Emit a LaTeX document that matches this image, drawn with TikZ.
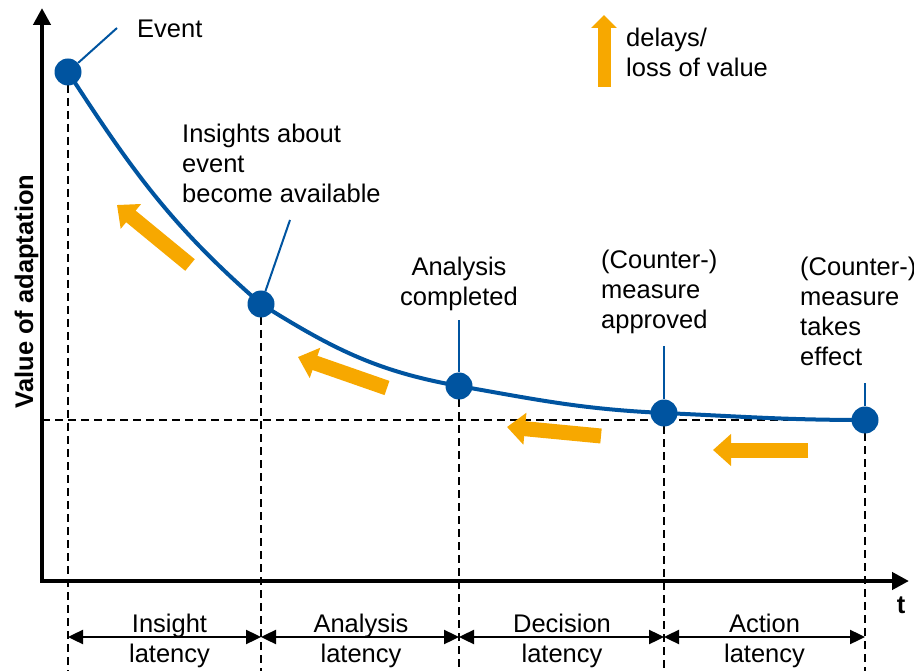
\documentclass[tikz,border=0pt]{standalone}
\usepackage{fontspec}
\setmainfont{Liberation Sans}
\usetikzlibrary{arrows.meta}
\definecolor{myblue}{RGB}{0,84,160}
\definecolor{myorange}{RGB}{247,168,0}
\begin{document}
\begin{tikzpicture}[x=1pt,y=-1pt,
 every node/.style={font=\fontsize{25.5}{30}\selectfont, inner sep=0pt},
 dot/.style={circle, fill=myblue, minimum size=27pt, inner sep=0pt},
 curve/.style={myblue, line width=4pt},
 callout/.style={myblue, line width=2pt},
 guide/.style={black, line width=1.8pt, dash pattern=on 8pt off 5pt},
 axis/.style={black, line width=4.5pt, line join=miter, {Triangle[length=17pt,width=17pt]}-{Triangle[length=17pt,width=17pt]}},
 latency/.style={black, line width=2.4pt, {Triangle[length=15pt,width=14pt]}-{Triangle[length=15pt,width=14pt]}},
 delay/.style={myorange, line width=15pt, -{Triangle[length=18pt,width=31pt]}},
 label/.style={align=left, anchor=north west},
 boldlabel/.style={font=\fontsize{25.5}{30}\selectfont\bfseries},
]
\useasboundingbox (0,0) rectangle (914,671);

% key points
\coordinate (q1) at (68,72);
\coordinate (q2) at (261,304);
\coordinate (q3) at (459,386);
\coordinate (q4) at (664,413);
\coordinate (q5) at (865,420);
\foreach \i/\x in {1/68,2/261,3/459,4/664,5/865}{
  \coordinate (b\i) at (\x,671);
  \coordinate (l\i) at (\x,637);
}
\coordinate (hstart) at (42,420);
\coordinate (ytop) at (42,8);
\coordinate (xend) at (909,581);

% dashed guides
\foreach \i in {1,...,5}{ \draw[guide] (q\i) -- (b\i); }
\draw[guide] (hstart) -- (q5);

% axes
\draw[axis] (ytop) |- (xend);

% curve
\draw[curve] (q1) to[out=-57,in=139] (q2) to[out=-32,in=170] (q3)
  to[out=-10,in=177.4] (q4) to[out=-2.6,in=180] (q5);

% dots
\foreach \i in {1,...,5}{ \node[dot] (p\i) at (q\i) {}; }

% callouts
\coordinate (c1) at (117,28);
\coordinate (c2) at (290,220);
\coordinate (c3) at (459,320);
\coordinate (c4) at (664,346);
\coordinate (c5) at (865,383);
\foreach \i in {1,...,5}{ \draw[callout] (p\i) -- (c\i); }

% delay arrows
\coordinate (a1s) at (190,265); \coordinate (a1e) at (117,205);
\coordinate (a2s) at (387,388); \coordinate (a2e) at (298,357);
\coordinate (a3s) at (601,436); \coordinate (a3e) at (507,427);
\coordinate (a4s) at (808,450); \coordinate (a4e) at (713,450);
\draw[delay] (a1s) -- (a1e);
\draw[delay] (a2s) -- (a2e);
\draw[delay] (a3s) -- (a3e);
\draw[delay] (a4s) -- (a4e);
\coordinate (lgs) at (604,87); \coordinate (lge) at (604,15);
\draw[delay, line width=13pt, -{Triangle[length=13pt,width=25pt]}] (lgs) -- (lge);

% latency arrows
\draw[latency] (l1) -- (l2);
\draw[latency] (l2) -- (l3);
\draw[latency] (l3) -- (l4);
\draw[latency] (l4) -- (l5);

% texts
\node[label] (tevent) at (137,20) {Event};
\node[label] (tins) at (182,124) {Insights about\\event\\become available};
\node[align=center, anchor=north] (tana) at (459,257) {Analysis\\completed};
\node[label] (tappr) at (601,250) {(Counter-)\\measure\\approved};
\node[label] (teff) at (800,257) {(Counter-)\\measure\\takes\\effect};
\node[label] (tleg) at (626,27.5) {delays/\\loss of value};

\node[align=center, anchor=north] (lat1) at (169.5,613.5) {Insight\\latency};
\node[align=center, anchor=north] (lat2) at (361,613.5) {Analysis\\latency};
\node[align=center, anchor=north] (lat3) at (562,613.5) {Decision\\latency};
\node[align=center, anchor=north] (lat4) at (764.5,613.5) {Action\\latency};

\node[boldlabel, rotate=90, anchor=base] (ylabel) at (33,291.5) {Value of adaptation};
\node[boldlabel, anchor=base] (tlabel) at (901,613) {t};
\end{tikzpicture}
\end{document}
